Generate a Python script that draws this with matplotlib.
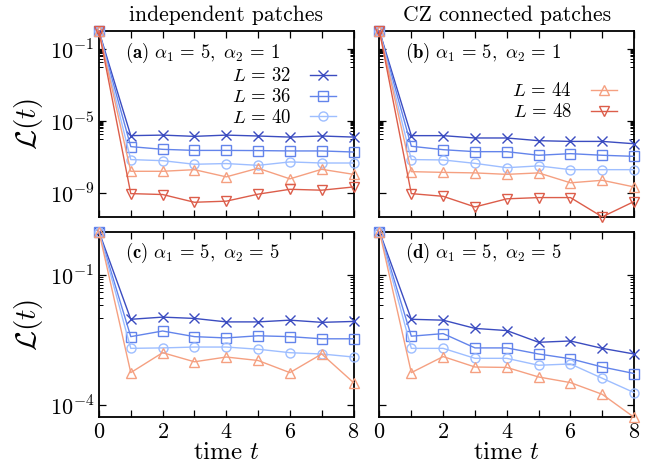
import numpy as np
import matplotlib
matplotlib.use("Agg")
import matplotlib.pyplot as plt
from matplotlib.ticker import FixedLocator, FixedFormatter, NullFormatter

plt.rcParams['mathtext.fontset'] = 'cm'
plt.rcParams['font.family'] = 'serif'
plt.rcParams['font.serif'] = ['cmr10', 'DejaVu Serif']
plt.rcParams['axes.unicode_minus'] = False

# ---------------- data (log10 of L(t)) ----------------
times = [0, 1, 2, 3, 4, 5, 6, 7, 8]
sizes = [32, 36, 40, 44, 48]

a_L32 = [0, -5.80, -5.77, -5.84, -5.77, -5.82, -5.88, -5.82, -5.88]
a_L36 = [0, -6.41, -6.56, -6.62, -6.62, -6.63, -6.65, -6.65, -6.71]
a_L40 = [0, -7.13, -7.19, -7.39, -7.35, -7.45, -7.26, -7.32, -7.32]
a_L44 = [0, -7.78, -7.78, -7.69, -8.09, -7.61, -8.20, -7.67, -7.95]
a_L48 = [0, -9.02, -9.07, -9.50, -9.44, -9.05, -8.78, -8.83, -8.65]

b_L32 = [0, -5.80, -5.80, -5.93, -5.93, -6.08, -6.12, -6.12, -6.25]
b_L36 = [0, -6.39, -6.58, -6.69, -6.69, -6.89, -6.80, -6.89, -6.95]
b_L40 = [0, -7.13, -7.15, -7.34, -7.58, -7.48, -7.69, -7.69, -7.69]
b_L44 = [0, -7.80, -7.84, -7.87, -7.95, -7.87, -8.42, -8.28, -8.65]
b_L48 = [0, -9.02, -9.17, -9.76, -9.31, -9.24, -9.24, -10.31, -9.46]

c_L32 = [0, -2.02, -1.97, -2.00, -2.08, -2.08, -2.04, -2.09, -2.07]
c_L36 = [0, -2.42, -2.29, -2.42, -2.45, -2.40, -2.42, -2.47, -2.47]
c_L40 = [0, -2.69, -2.68, -2.66, -2.66, -2.71, -2.79, -2.82, -2.89]
c_L44 = [0, -3.25, -2.79, -3.00, -2.89, -2.97, -3.25, -2.82, -3.48]

d_L32 = [0, -2.02, -2.04, -2.23, -2.28, -2.55, -2.52, -2.69, -2.82]
d_L36 = [0, -2.41, -2.35, -2.68, -2.68, -2.82, -2.93, -3.12, -3.27]
d_L40 = [0, -2.69, -2.69, -2.92, -2.92, -3.08, -3.05, -3.38, -3.71]
d_L44 = [0, -3.25, -2.88, -3.12, -3.13, -3.35, -3.48, -3.75, -4.28]

col_titles = ['independent patches', 'CZ connected patches']
panel_labels = [r'$\mathbf{(a)}\ \alpha_1 \,=\, 5,\ \alpha_2 \,=\, 1$',
                r'$\mathbf{(b)}\ \alpha_1 \,=\, 5,\ \alpha_2 \,=\, 1$',
                r'$\mathbf{(c)}\ \alpha_1 \,=\, 5,\ \alpha_2 \,=\, 5$',
                r'$\mathbf{(d)}\ \alpha_1 \,=\, 5,\ \alpha_2 \,=\, 5$']
x_ticks = [0, 2, 4, 6, 8]
x_ticklabels = ['$0$', '$2$', '$4$', '$6$', '$8$']
top_yticks = [1e-1, 1e-5, 1e-9]
top_yticklabels = [r'$10^{-1}$', r'$10^{-5}$', r'$10^{-9}$']
bot_yticks = [1e-1, 1e-4]
bot_yticklabels = [r'$10^{-1}$', r'$10^{-4}$']

colors = {32: '#3b4cc0', 36: '#6384eb', 40: '#9ebeff', 44: '#f5a081', 48: '#dc5d4a'}
markers = {32: 'x', 36: 's', 40: 'o', 44: '^', 48: 'v'}

panels = [
    {32: a_L32, 36: a_L36, 40: a_L40, 44: a_L44, 48: a_L48},
    {32: b_L32, 36: b_L36, 40: b_L40, 44: b_L44, 48: b_L48},
    {32: c_L32, 36: c_L36, 40: c_L40, 44: c_L44},
    {32: d_L32, 36: d_L36, 40: d_L40, 44: d_L44},
]

fig, axes = plt.subplots(2, 2, figsize=(6.51, 4.66), dpi=100, sharey='row', sharex=True)
fig.subplots_adjust(left=0.152, right=0.974, top=0.933, bottom=0.1045, wspace=0.102, hspace=0.08)

lines_store = [{}, {}, {}, {}]
for i, ax in enumerate(axes.flat):
    for L, vals in panels[i].items():
        y = 10.0 ** np.array(vals)
        ln, = ax.plot(times, y, color=colors[L], marker=markers[L], ms=6.5,
                      mfc='none', mew=1.0, lw=1.0, clip_on=False, zorder=3,
                      label=rf'$L\,=\,{L}$')
        lines_store[i][L] = ln
    ax.set_yscale('log')
    ax.set_xlim(0, 8)
    ax.set_xticks(x_ticks)
    ax.xaxis.set_minor_locator(FixedLocator([1, 3, 5, 7]))
    ax.tick_params(which='both', direction='in', top=True, right=True)
    ax.tick_params(which='major', length=5, width=0.9, labelsize=16)
    ax.tick_params(which='minor', length=3, width=0.7)
    ax.tick_params(axis='x', which='minor', length=5, width=0.9)
    for s in ax.spines.values():
        s.set_linewidth(1.3)
    ax.text(0.102, 0.883, panel_labels[i], transform=ax.transAxes,
            fontsize=13.5, va='center', ha='left')

# y limits from data
top_min = min(min(v) for p in panels[:2] for v in p.values())
bot_min = min(min(v) for p in panels[2:] for v in p.values())
axes[0, 0].set_ylim(10.0 ** top_min, 1.0)
axes[1, 0].set_ylim(10.0 ** bot_min, 1.0)

for r, (ticks, labels, mdecs) in enumerate([(top_yticks, top_yticklabels, [-2, -6]),
                                             (bot_yticks, bot_yticklabels, [-2])]):
    minors = [k * 10.0 ** d for d in mdecs for k in range(1, 10)]
    for c in range(2):
        ax = axes[r, c]
        ax.yaxis.set_major_locator(FixedLocator(ticks))
        ax.yaxis.set_minor_locator(FixedLocator(minors))
        ax.yaxis.set_minor_formatter(NullFormatter())
        if c == 0:
            ax.yaxis.set_major_formatter(FixedFormatter(labels))
        ax.set_ylim(axes[r, 0].get_ylim())
    axes[r, 0].set_ylabel(r'$\mathcal{L}(t)$', fontsize=21, labelpad=3)

for c in range(2):
    axes[1, c].xaxis.set_major_formatter(FixedFormatter(x_ticklabels))
    axes[1, c].set_xlabel(r'time $t$', fontsize=18, labelpad=0)
    axes[0, c].set_title(col_titles[c], fontsize=15.5, pad=7)
axes[0, 0].tick_params(labelbottom=False)
axes[0, 1].tick_params(labelbottom=False)

leg_kw = dict(frameon=False, markerfirst=False, fontsize=13.5, handlelength=1.4,
              handletextpad=1.0, borderpad=0, borderaxespad=0, labelspacing=0.15,
              loc='upper right')
axes[0, 0].legend(handles=[lines_store[0][L] for L in (32, 36, 40)],
                  bbox_to_anchor=(0.933, 0.805), **leg_kw)
axes[0, 1].legend(handles=[lines_store[1][L] for L in (44, 48)],
                  bbox_to_anchor=(0.933, 0.725), **leg_kw)

fig.savefig('out.png', dpi=100)
